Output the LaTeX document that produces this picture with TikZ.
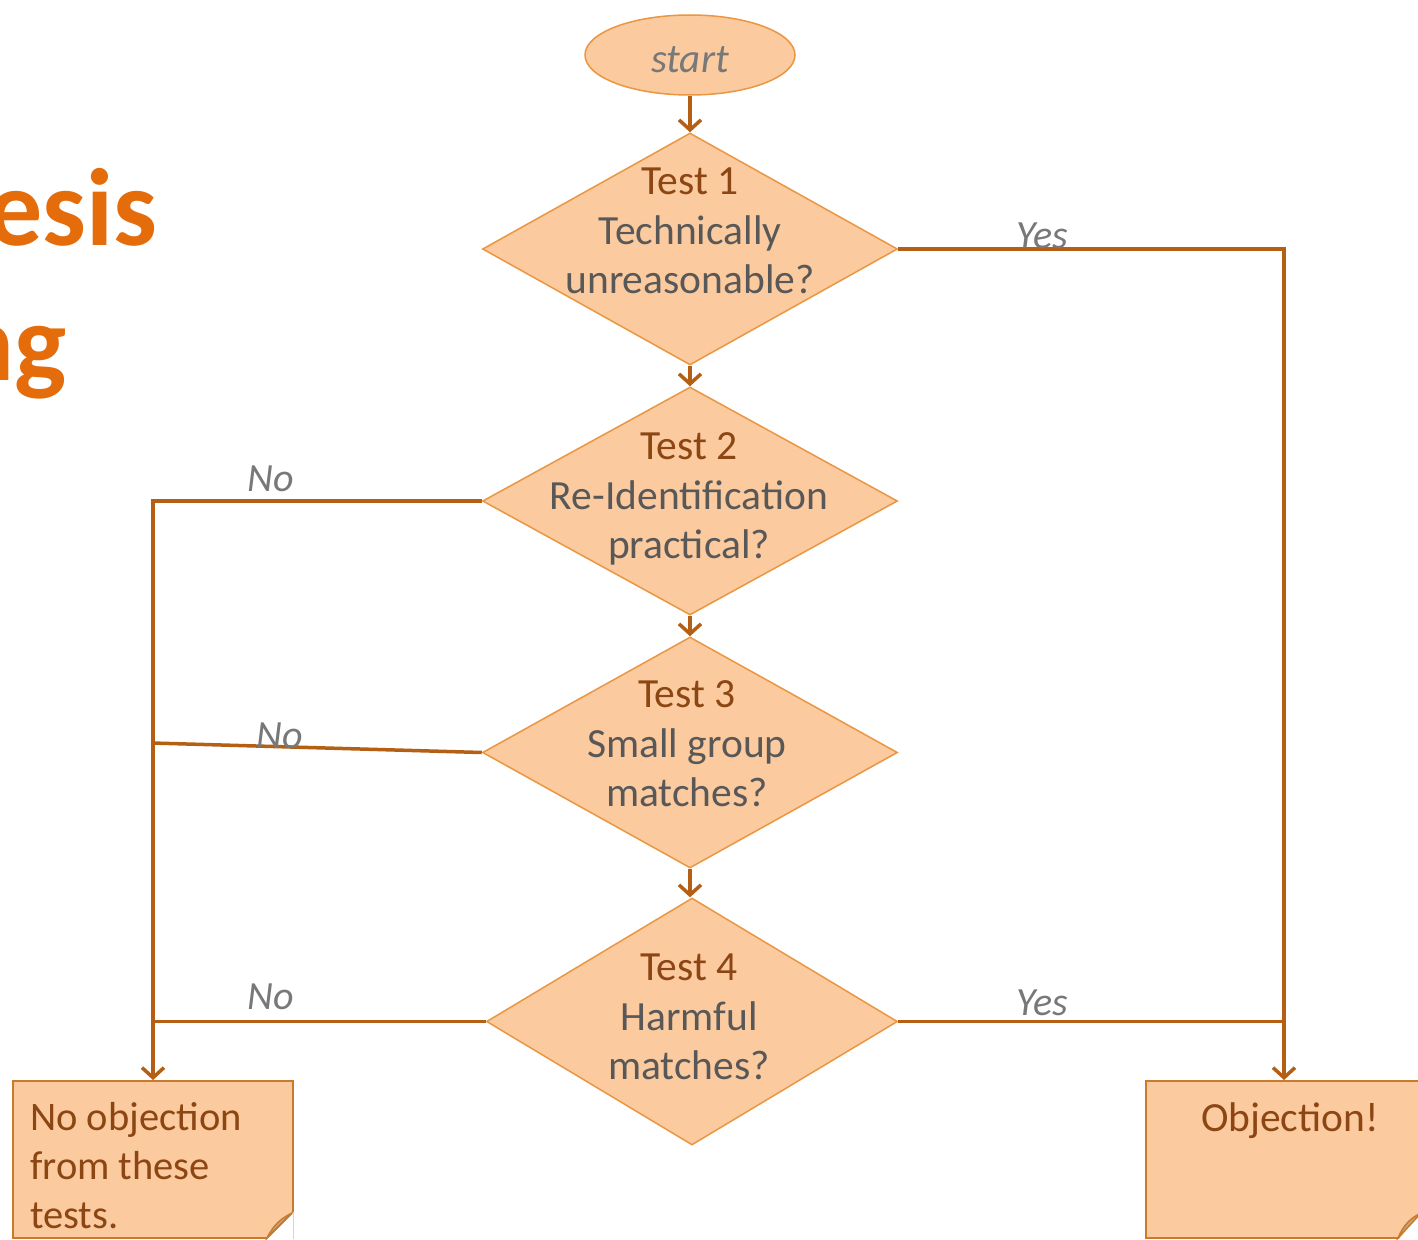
\documentclass[tikz,border=0pt]{standalone}
\usepackage{fontspec}
\setmainfont{Carlito}
\usetikzlibrary{shapes.geometric,arrows.meta,calc}
\definecolor{fillc}{RGB}{251,202,158}
\definecolor{dline}{RGB}{234,150,66}
\definecolor{connc}{RGB}{180,95,20}
\definecolor{tbrown}{RGB}{140,70,20}
\definecolor{tgray}{RGB}{88,88,88}
\definecolor{lgray}{RGB}{120,120,120}
\definecolor{titleor}{RGB}{228,108,10}
\definecolor{boxline}{RGB}{200,122,45}
\definecolor{foldc}{RGB}{200,165,128}
\begin{document}
\begin{tikzpicture}[x=1pt,y=-1pt,
  dec/.style={diamond, draw=dline, fill=fillc, line width=1.5pt, minimum width=415pt, minimum height=232pt, inner sep=0pt},
  dtext/.style={align=center, font=\fontsize{41.5}{49.5}\selectfont, text=tgray, inner sep=0pt},
  lab/.style={font=\fontsize{40}{42}\selectfont\itshape, text=lgray, inner sep=0pt},
  conn/.style={draw=connc, line width=3.5pt},
  arr/.style={conn, -{Straight Barb[length=10pt,width=22pt]}},
  endbox/.style={rectangle, draw=boxline, fill=fillc, line width=2pt, inner sep=0pt, anchor=north west}
]
\clip (0,0) rectangle (1418,1239);
\fill[white] (0,0) rectangle (1418,1239);
\useasboundingbox (0,0) rectangle (1418,1239);

% title fragments
\node[anchor=base east, font=\fontsize{110}{112}\selectfont\bfseries, text=titleor, inner sep=0pt] (title1) at (158,245) {esis};
\node[anchor=base east, font=\fontsize{110}{112}\selectfont\bfseries, text=titleor, inner sep=0pt] (title2) at (67,380) {ng};

% start
\node[ellipse, draw=dline, fill=fillc, line width=1.5pt, minimum width=210pt, minimum height=80pt, inner sep=0pt] (start) at (690,55) {};
\node[font=\fontsize{41}{44}\selectfont\itshape, text=lgray, inner sep=0pt] (startt) at (690,60) {start};

% diamonds
\node[dec] (d1) at (690,249) {};
\node[dec, minimum height=228pt] (d2) at (690,501) {};
\node[dec, minimum height=231pt] (d3) at (690,752.5) {};
\node[dec, minimum width=411pt, minimum height=247pt] (d4) at (692,1021.5) {};

\node[dtext] (d1t) at (690,231) {{\color{tbrown}Test 1}\\Technically\\unreasonable?};
\node[dtext] (d2t) at (689,499) {{\color{tbrown}Test 2}\\Re-Identification\\practical?};
\node[dtext] (d3t) at (687,744) {{\color{tbrown}Test 3}\\Small group\\matches?};
\node[dtext] (d4t) at (689,1017) {{\color{tbrown}Test 4}\\Harmful\\matches?};

% end boxes
\node[endbox, minimum width=280pt, minimum height=157pt] (nobox) at (12,1080) {};
\node[endbox, minimum width=276pt, minimum height=157pt] (objbox) at (1145,1080) {};
% folded corners
\fill[white] (293.5,1212) -- (293.5,1240) -- (266,1240) -- cycle;
\draw[boxline, line width=1.5pt, fill=foldc] (292,1213) .. controls (282,1218) and (274,1224) .. (267,1238) -- (292,1213);
\draw[boxline, line width=1.5pt] (292,1213) -- (267,1238);
\fill[white] (1422,1212) -- (1422,1240) -- (1398,1240) -- cycle;
\draw[boxline, line width=1.5pt, fill=foldc] (1421,1213) .. controls (1411,1218) and (1404,1224) .. (1398,1238) -- (1421,1213);

\node[anchor=north west, align=left, font=\fontsize{40.5}{49}\selectfont, text=tbrown, inner sep=0pt] (nobt) at (30,1102) {No objection\\from these\\tests.};
\node[font=\fontsize{41.5}{44}\selectfont, text=tbrown, inner sep=0pt] (objt) at (1290,1121) {Objection!};

% connectors
\coordinate (j3) at (152,743);
\draw[arr] (start.south) -- (d1.north);
\draw[arr] (d1.south) -- (d2.north);
\draw[arr] (d2.south) -- (d3.north);
\draw[arr] (d3.south) -- (d3.south |- d4.north);
\draw[arr] (d2.west) -| (nobox.north);
\draw[conn] (d3.west) -- (j3);
\draw[conn] (d4.west) -- (nobox.north |- d4.west);
\draw[arr] (d1.east) -| (objbox.north);
\draw[conn] (d4.east) -- (objbox.north |- d4.east);

% labels
\node[lab] (no1) at (271,479) {No};
\node[lab] (no2) at (280,736) {No};
\node[lab] (no3) at (271,997) {No};
\node[lab] (yes1) at (1042,236) {Yes};
\node[lab] (yes2) at (1042,1003) {Yes};
\end{tikzpicture}
\end{document}
